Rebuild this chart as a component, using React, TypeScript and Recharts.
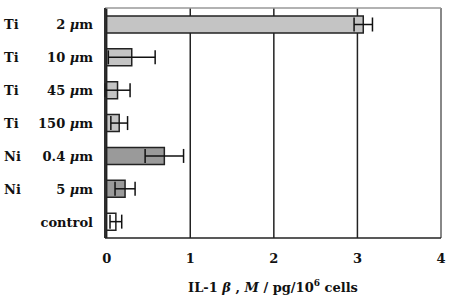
import React from 'react';
import { BarChart, Bar, XAxis, YAxis, CartesianGrid, ErrorBar, Cell, ReferenceLine } from 'recharts';

const metals = ['Ti', 'Ti', 'Ti', 'Ti', 'Ni', 'Ni', ''];
const sizes = ['2 μm', '10 μm', '45 μm', '150 μm', '0.4 μm', '5 μm', 'control'];
const values = [3.07, 0.3, 0.13, 0.15, 0.69, 0.22, 0.11];
const errors = [0.11, 0.28, 0.15, 0.1, 0.23, 0.12, 0.07];
const colors = ['#c4c4c4', '#c4c4c4', '#c4c4c4', '#c4c4c4', '#9a9a9a', '#9a9a9a', '#ffffff'];
const xTicks = [0, 1, 2, 3, 4];

const data = sizes.map((s, i) => ({ key: String(i), metal: metals[i], size: s, value: values[i], err: errors[i] }));

const textStyle = { fontFamily: "'DejaVu Serif', serif", fontWeight: 700, fontSize: 13 } as const;

const renderSize = (s: string) => {
  const idx = s.indexOf('μ');
  if (idx < 0) return s;
  return (
    <>
      {s.slice(0, idx)}
      <tspan fontStyle="italic">μ</tspan>
      {s.slice(idx + 1)}
    </>
  );
};

const YTick = (props: any) => {
  const { y, payload } = props;
  const d = data[Number(payload.value)];
  return (
    <g>
      <text x={4} y={y} dy={5} style={textStyle} fill="#111" textAnchor="start">{d.metal}</text>
      <text x={93} y={y} dy={5} style={textStyle} fill="#111" textAnchor="end">{renderSize(d.size)}</text>
    </g>
  );
};

const XTick = (props: any) => {
  const { x, y, payload } = props;
  return (
    <text x={x} y={y} dy={17} style={textStyle} fill="#111" textAnchor="middle">{payload.value}</text>
  );
};

const AxisTitle = () => (
  <text x={273} y={292} style={textStyle} fill="#111" textAnchor="middle">
    IL-1 <tspan fontStyle="italic">β</tspan> , <tspan fontStyle="italic">M</tspan> / pg/10<tspan dy={-6} fontSize={9}>6</tspan><tspan dy={6}> cells</tspan>
  </text>
);

export default function App() {
  return (
    <div style={{ position: 'absolute', left: 0, top: 0, background: '#fff' }}>
      <BarChart width={454} height={300} data={data} layout="vertical" margin={{ top: 8, right: 13, bottom: 0, left: 0 }} barCategoryGap={8}>
        <CartesianGrid horizontal={false} stroke="#222" strokeWidth={1.5} />
        <CartesianGrid vertical={false} stroke="#999" strokeWidth={1.5} horizontalCoordinatesGenerator={({ offset }: any) => [offset.top]} />
        <ReferenceLine x={4} stroke="#999" strokeWidth={1.5} />
        <XAxis type="number" domain={[0, 4]} ticks={xTicks} tick={<XTick />} tickLine={false} axisLine={{ stroke: '#222', strokeWidth: 1.5 }} interval={0} height={62}
          label={{ content: () => <AxisTitle /> }}
        />
        <YAxis type="category" dataKey="key" width={105} tick={<YTick />} tickLine={false} axisLine={{ stroke: '#222', strokeWidth: 1.5 }} interval={0} />
        <Bar dataKey="value" barSize={17} stroke="#222" strokeWidth={1.5} isAnimationActive={false}>
          {data.map((d, i) => <Cell key={i} fill={colors[i]} />)}
          <ErrorBar dataKey="err" direction="x" width={7} stroke="#111" strokeWidth={1.5} />
        </Bar>
      </BarChart>
    </div>
  );
}
